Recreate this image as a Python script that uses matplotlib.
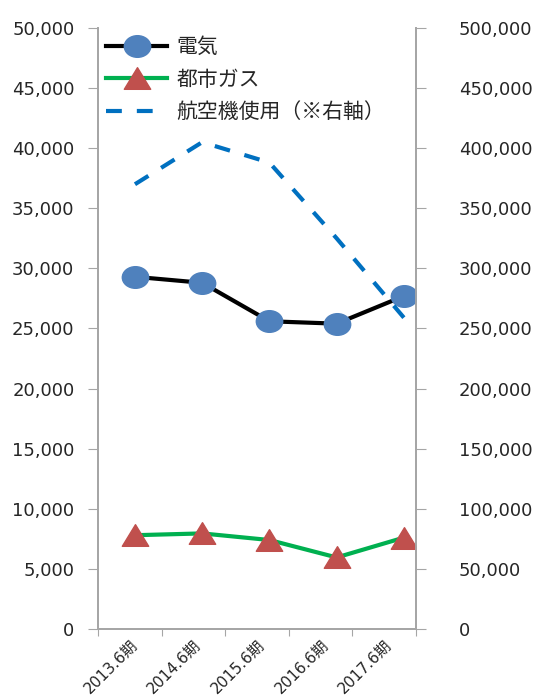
import numpy as np
import matplotlib
matplotlib.use("Agg")
import matplotlib.pyplot as plt
from matplotlib.path import Path
from matplotlib.ticker import FuncFormatter

plt.rcParams['font.family'] = ['DejaVu Sans', 'Noto Sans CJK JP']

# data
periods = ['2013.6期', '2014.6期', '2015.6期', '2016.6期', '2017.6期']
electric = [29300, 28800, 25600, 25400, 27700]
city_gas = [7800, 7950, 7400, 5950, 7600]
flights = [370000, 405000, 388000, 325000, 259000]

grey = '#a6a6a6'
fmt = FuncFormatter(lambda v, p: f'{int(v):,}')

# slightly flattened markers like the original
circ = Path.unit_circle()
ellipse = Path(circ.vertices * [1.0, 0.82], circ.codes)
tri = Path([(0, 0.82), (-1, -0.82), (1, -0.82), (0, 0.82)],
           [Path.MOVETO, Path.LINETO, Path.LINETO, Path.CLOSEPOLY])

fig = plt.figure(figsize=(5.49, 6.98), dpi=100)
ax = fig.add_axes([0.1785, 0.0989, 0.5792, 0.8610])
ax2 = ax.twinx()

x = np.arange(len(periods))
xmin, xmax = -0.55, 4.18

l1, = ax.plot(x, electric, color='black', lw=3, marker=ellipse, markersize=19,
              markerfacecolor='#4f81bd', markeredgecolor='#4f81bd', zorder=3)
l2, = ax.plot(x, city_gas, color='#00b050', lw=3, marker=tri, markersize=19,
              markerfacecolor='#c0504d', markeredgecolor='#c0504d', zorder=3)
l3, = ax2.plot(x, flights, color='#0070c0', lw=3, dashes=(3.8, 3.6))

ax.set_xlim(xmin, xmax)
ax.set_ylim(0, 50000)
ax2.set_ylim(0, 500000)
ax.set_yticks(np.arange(0, 50001, 5000))
ax2.set_yticks(np.arange(0, 500001, 50000))
ax.yaxis.set_major_formatter(fmt)
ax2.yaxis.set_major_formatter(fmt)

# category boundaries as ticks, labels in between
bounds = np.linspace(xmin, xmax, len(periods) + 1)
ax.set_xticks(bounds)
ax.set_xticklabels([])
ax.set_xticks((bounds[:-1] + bounds[1:]) / 2, minor=True)
ax.set_xticklabels(periods, minor=True, rotation=45, ha='right',
                   rotation_mode='anchor', fontsize=11, color='#262626')
ax.tick_params(axis='x', which='minor', length=0, pad=6)
ax.tick_params(axis='x', which='major', length=5, color=grey)

for a in (ax, ax2):
    a.spines['top'].set_visible(False)
    for s in ('left', 'right', 'bottom'):
        a.spines[s].set_color(grey)
        a.spines[s].set_linewidth(1.3)
    a.tick_params(axis='y', length=7, color=grey, labelsize=13,
                  labelcolor='#262626')
ax.tick_params(axis='y', pad=10)
ax2.tick_params(axis='y', pad=24)

leg = ax.legend([l1, l2, l3], ['電気', '都市ガス', '航空機使用（※右軸）'],
                loc='upper left', bbox_to_anchor=(0.0, 1.0), borderaxespad=0.0,
                frameon=False, handlelength=2.9, labelspacing=0.5,
                handletextpad=0.45, prop={'family': ['Noto Sans CJK JP'], 'size': 15})
for t in leg.get_texts():
    t.set_color('#262626')

fig.savefig('out.png', dpi=100)
